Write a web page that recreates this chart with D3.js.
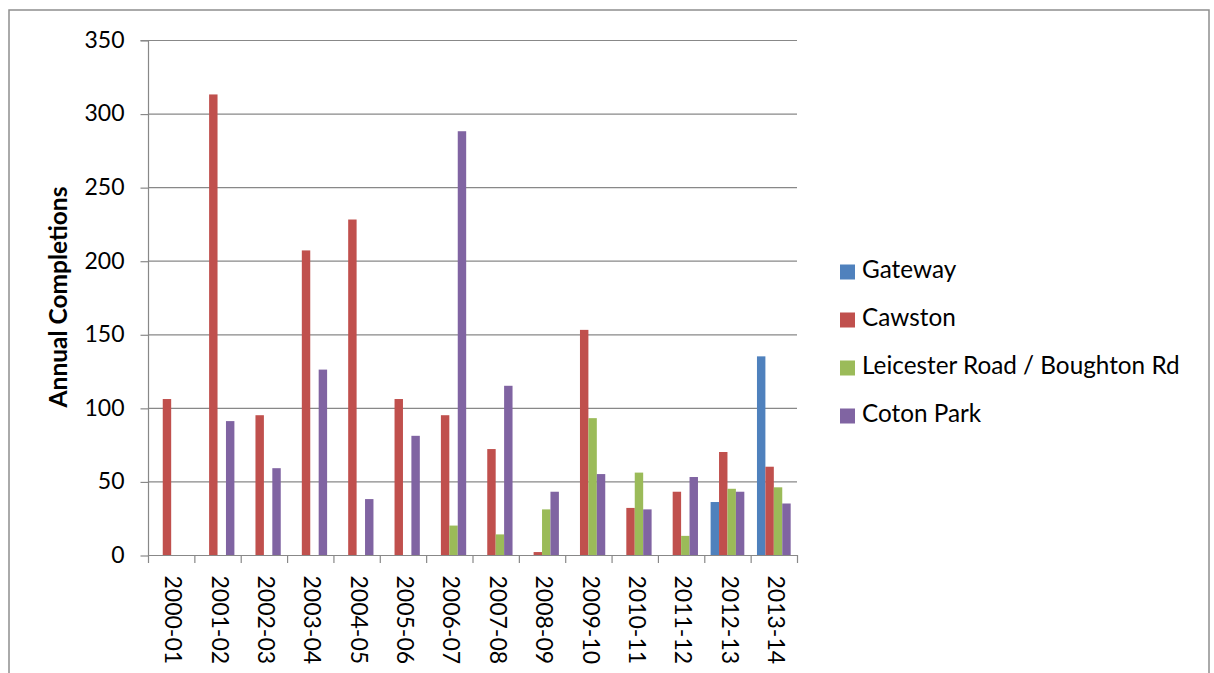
<!DOCTYPE html>
<html>
<head>
<meta charset="utf-8">
<script src="https://cdn.jsdelivr.net/npm/d3@7"></script>
<style>
  html, body { margin: 0; padding: 0; background: #fff; }
  svg { display: block; }
  text { font-family: Lato, "Open Sans", "Liberation Sans", sans-serif; fill: #000; }
</style>
</head>
<body>
<svg id="chart" width="1214" height="673"></svg>
<script>
const categories = ["2000-01","2001-02","2002-03","2003-04","2004-05","2005-06","2006-07","2007-08","2008-09","2009-10","2010-11","2011-12","2012-13","2013-14"];
const seriesNames = ["Gateway","Cawston","Leicester Road / Boughton Rd","Coton Park"];
const gateway   = [0,0,0,0,0,0,0,0,0,0,0,0,36,135];
const cawston   = [106,313,95,207,228,106,95,72,2,153,32,43,70,60];
const leicester = [0,0,0,0,0,0,20,14,31,93,56,13,45,46];
const cotonPark = [0,91,59,126,38,81,288,115,43,55,31,53,43,35];
const seriesColors = ["#4F81BD","#C0504D","#9BBB59","#8064A2"];
const yTicks = [0,50,100,150,200,250,300,350];
const yTitle = "Annual Completions";

const seriesValues = [gateway, cawston, leicester, cotonPark];
const svg = d3.select("#chart");

const plot = {left: 148, right: 797, top: 40, bottom: 555};

// outer chart border
svg.append("rect")
  .attr("x", 9).attr("y", 10).attr("width", 1200).attr("height", 700)
  .attr("fill", "none").attr("stroke", "#8e8e8e").attr("stroke-width", 1.5);

const x = d3.scaleBand().domain(categories).range([plot.left, plot.right]).padding(0);
const xInner = d3.scaleBand().domain(seriesNames).range([0, x.bandwidth()])
  .paddingInner(0).paddingOuter(0.75);
const y = d3.scaleLinear().domain([0, 350]).range([plot.bottom, plot.top]);

// gridlines
svg.append("g").selectAll("line").data(yTicks.filter(d => d > 0)).join("line")
  .attr("x1", plot.left).attr("x2", plot.right)
  .attr("y1", d => y(d) + 0.5).attr("y2", d => y(d) + 0.5)
  .attr("stroke", "#888").attr("stroke-width", 1.2);

// bars
const barData = [];
seriesNames.forEach((s, si) => {
  categories.forEach((c, ci) => {
    barData.push({series: s, cat: c, value: seriesValues[si][ci], color: seriesColors[si]});
  });
});
svg.append("g").selectAll("rect").data(barData.filter(d => d.value > 0)).join("rect")
  .attr("x", d => x(d.cat) + xInner(d.series))
  .attr("width", xInner.bandwidth())
  .attr("y", d => y(d.value))
  .attr("height", d => y(0) - y(d.value))
  .attr("fill", d => d.color);

// y axis
const yAxis = d3.axisLeft(y).tickValues(yTicks).tickSize(8).tickPadding(16).tickFormat(d3.format("d"));
const gy = svg.append("g").attr("transform", `translate(${plot.left + 0.5},0)`).call(yAxis);
gy.select(".domain").attr("stroke", "#888").attr("stroke-width", 1.2).attr("d", `M-8,${y(350)+0.5}H0V${y(0)+0.5}`);
gy.selectAll(".tick line").attr("stroke", "#888").attr("stroke-width", 1.2)
  .attr("transform", "translate(0,0.5)");
gy.selectAll(".tick text").attr("font-size", 23).attr("font-family", "Lato, sans-serif").attr("fill", "#000");

// x axis
const xAxis = d3.axisBottom(x).tickSize(0).tickPadding(0);
const gx = svg.append("g").attr("transform", `translate(0,${plot.bottom + 0.5})`).call(xAxis);
gx.select(".domain").attr("stroke", "#888").attr("stroke-width", 1.2).attr("d", `M${plot.left},0H${plot.right}`);
gx.selectAll(".tick text")
  .attr("font-size", 23).attr("font-family", "Lato, sans-serif").attr("fill", "#000")
  .attr("text-anchor", "start").attr("dy", null)
  .attr("dominant-baseline", "middle").attr("y", 0).attr("x", 0)
  .attr("transform", "translate(0,20) rotate(90)");
// category boundary ticks
svg.append("g").selectAll("line").data(categories.concat(["_end"])).join("line")
  .attr("x1", (d, i) => (i < categories.length ? x(d) : plot.right) + 0.5)
  .attr("x2", (d, i) => (i < categories.length ? x(d) : plot.right) + 0.5)
  .attr("y1", plot.bottom).attr("y2", plot.bottom + 8)
  .attr("stroke", "#888").attr("stroke-width", 1.2);

// y title
svg.append("text")
  .attr("transform", "translate(61,297) rotate(-90)")
  .attr("text-anchor", "middle").attr("dominant-baseline", "middle")
  .attr("font-size", 24.5).attr("font-weight", "bold")
  .text(yTitle);

// legend
const legend = svg.append("g");
const lg = legend.selectAll("g").data(seriesNames).join("g")
  .attr("transform", (d, i) => `translate(840,${272 + i * 48})`);
lg.append("rect").attr("x", 0).attr("y", -7.5).attr("width", 15).attr("height", 15)
  .attr("fill", (d, i) => seriesColors[i]);
lg.append("text").attr("x", 22).attr("y", 0).attr("dominant-baseline", "middle")
  .attr("font-size", 24.3).text(d => d);
</script>
</body>
</html>
